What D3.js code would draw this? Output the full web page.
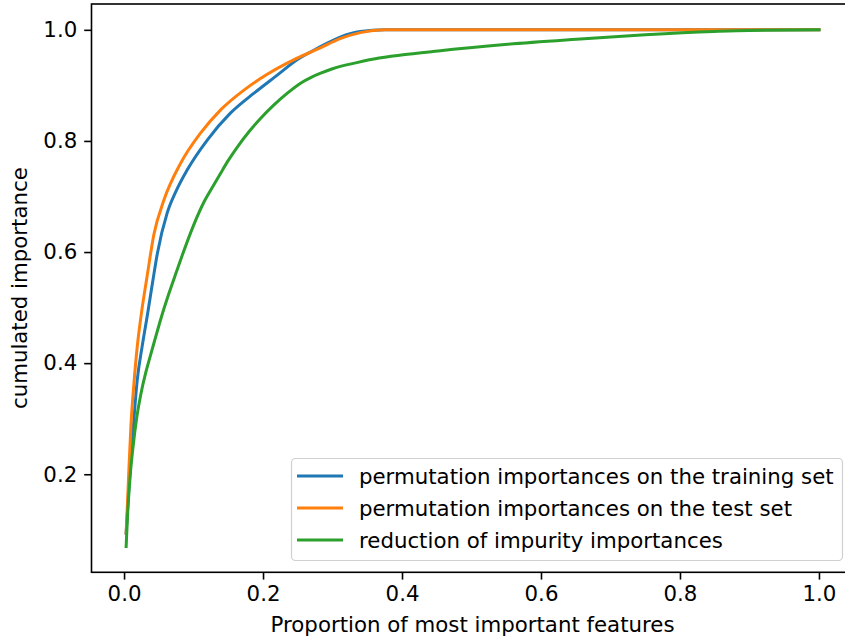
<!DOCTYPE html>
<html>
<head>
<meta charset="utf-8">
<script src="https://cdn.jsdelivr.net/npm/d3@7"></script>
<style>
  body { margin: 0; background: #fff; }
  text { font-family: "DejaVu Sans", sans-serif; fill: #000; }
</style>
</head>
<body>
<div id="chart"></div>
<script>
// DATA ------------------------------
const seriesNames = [
  "permutation importances on the training set",
  "permutation importances on the test set",
  "reduction of impurity importances"
];
const colors = ["#1f77b4", "#ff7f0e", "#2ca02c"];

// proportion of features (x) and cumulated importance (y)
const trainX = [0.003, 0.005, 0.007, 0.009, 0.013, 0.019, 0.026, 0.034, 0.041, 0.048, 0.062, 0.075, 0.091, 0.12, 0.153, 0.187, 0.22, 0.249, 0.28, 0.311, 0.34, 0.375, 0.5, 0.7, 1.0];
const trainY = [0.094, 0.135, 0.175, 0.21, 0.28, 0.37, 0.43, 0.49, 0.545, 0.598, 0.67, 0.71, 0.748, 0.802, 0.85, 0.886, 0.918, 0.946, 0.968, 0.987, 0.997, 1.0, 1.0, 1.0, 1.0];

const testX = [0.003, 0.005, 0.007, 0.01, 0.014, 0.019, 0.025, 0.033, 0.043, 0.0575, 0.0815, 0.11, 0.139, 0.173, 0.206, 0.244, 0.28, 0.311, 0.34, 0.375, 0.5, 0.7, 1.0];
const testY = [0.094, 0.15, 0.21, 0.29, 0.36, 0.43, 0.49, 0.555, 0.632, 0.694, 0.76, 0.814, 0.856, 0.892, 0.92, 0.946, 0.966, 0.984, 0.995, 1.0, 1.0, 1.0, 1.0];

const impurityX = [0.003, 0.005, 0.009, 0.013, 0.018, 0.024, 0.031, 0.036, 0.045, 0.053, 0.065, 0.075, 0.084, 0.1, 0.115, 0.125, 0.139, 0.15, 0.163, 0.18, 0.196, 0.215, 0.235, 0.254, 0.27, 0.283, 0.3, 0.335, 0.353, 0.452, 0.552, 0.651, 0.75, 0.849, 0.9, 1.0];
const impurityY = [0.07, 0.125, 0.20, 0.25, 0.30, 0.343, 0.382, 0.405, 0.445, 0.48, 0.527, 0.563, 0.595, 0.648, 0.69, 0.712, 0.742, 0.765, 0.789, 0.817, 0.84, 0.864, 0.886, 0.904, 0.915, 0.922, 0.93, 0.941, 0.946, 0.962, 0.974, 0.983, 0.991, 0.997, 0.999, 1.0];

const xTicks = [0.0, 0.2, 0.4, 0.6, 0.8, 1.0];
const yTicks = [0.2, 0.4, 0.6, 0.8, 1.0];

// CHART INIT ------------------------------
const W = 845, H = 640;
const box = {left: 91.5, top: 4, right: 853.6, bottom: 572.3};
const fontSize = 21.3;

const svg = d3.select("#chart").append("svg")
  .attr("width", W)
  .attr("height", H);

const series = [
  {name: seriesNames[0], color: colors[0], pts: trainX.map((x, i) => [x, trainY[i]])},
  {name: seriesNames[1], color: colors[1], pts: testX.map((x, i) => [x, testY[i]])},
  {name: seriesNames[2], color: colors[2], pts: impurityX.map((x, i) => [x, impurityY[i]])}
];

// matplotlib style 5% margins
const allPts = series.flatMap(s => s.pts);
const xExt = d3.extent(allPts, d => d[0]);
const yExt = d3.extent(allPts, d => d[1]);
const xm = (xExt[1] - xExt[0]) * 0.05, ym = (yExt[1] - yExt[0]) * 0.05;

const xScale = d3.scaleLinear().domain([xExt[0] - xm, xExt[1] + xm]).range([box.left, box.right]);
const yScale = d3.scaleLinear().domain([yExt[0] - ym, yExt[1] + ym]).range([box.bottom, box.top]);

const line = d3.line()
  .x(d => xScale(d[0]))
  .y(d => yScale(d[1]))
  .curve(d3.curveMonotoneX);

svg.append("g")
  .selectAll("path")
  .data(series)
  .join("path")
  .attr("d", d => line(d.pts))
  .attr("fill", "none")
  .attr("stroke", d => d.color)
  .attr("stroke-width", 3)
  .attr("stroke-linejoin", "round")
  .attr("stroke-linecap", "square");

// axes
const xAxis = d3.axisBottom(xScale).tickValues(xTicks).tickFormat(d3.format(".1f")).tickSize(7.3).tickPadding(6.5);
const yAxis = d3.axisLeft(yScale).tickValues(yTicks).tickFormat(d3.format(".1f")).tickSize(7.3).tickPadding(7);

const xAxisGroup = svg.append("g")
  .attr("transform", "translate(0," + box.bottom + ")")
  .call(xAxis);
const yAxisGroup = svg.append("g")
  .attr("transform", "translate(" + box.left + ",0)")
  .call(yAxis);

[xAxisGroup, yAxisGroup].forEach(g => {
  g.select(".domain").remove();
  g.selectAll(".tick line").attr("stroke", "#000").attr("stroke-width", 1.6);
  g.selectAll(".tick text").attr("font-size", fontSize).attr("fill", "#000")
    .style("font-family", "DejaVu Sans, sans-serif");
});

// spines
svg.append("rect")
  .attr("x", box.left)
  .attr("y", box.top)
  .attr("width", box.right - box.left)
  .attr("height", box.bottom - box.top)
  .attr("fill", "none")
  .attr("stroke", "#000")
  .attr("stroke-width", 1.6);

// axis titles
svg.append("text")
  .attr("x", (box.left + box.right) / 2)
  .attr("y", 632)
  .attr("text-anchor", "middle")
  .attr("font-size", fontSize)
  .text("Proportion of most important features");

svg.append("text")
  .attr("transform", "translate(27," + (box.top + box.bottom) / 2 + ") rotate(-90)")
  .attr("text-anchor", "middle")
  .attr("font-size", fontSize)
  .text("cumulated importance");

// legend
const leg = svg.append("g");
leg.append("rect")
  .attr("x", 291.5)
  .attr("y", 458.5)
  .attr("width", 551)
  .attr("height", 102)
  .attr("rx", 4)
  .attr("fill", "#fff")
  .attr("fill-opacity", 0.8)
  .attr("stroke", "#d0d0d0")
  .attr("stroke-width", 1.2);

const rows = leg.selectAll("g.row")
  .data(series)
  .join("g")
  .attr("class", "row")
  .attr("transform", (d, i) => "translate(0," + (476 + i * 32) + ")");

rows.append("line")
  .attr("x1", 297).attr("x2", 343)
  .attr("stroke", d => d.color)
  .attr("stroke-width", 3);

rows.append("text")
  .attr("x", 359)
  .attr("dy", "0.36em")
  .attr("font-size", fontSize)
  .text(d => d.name);
</script>
</body>
</html>
